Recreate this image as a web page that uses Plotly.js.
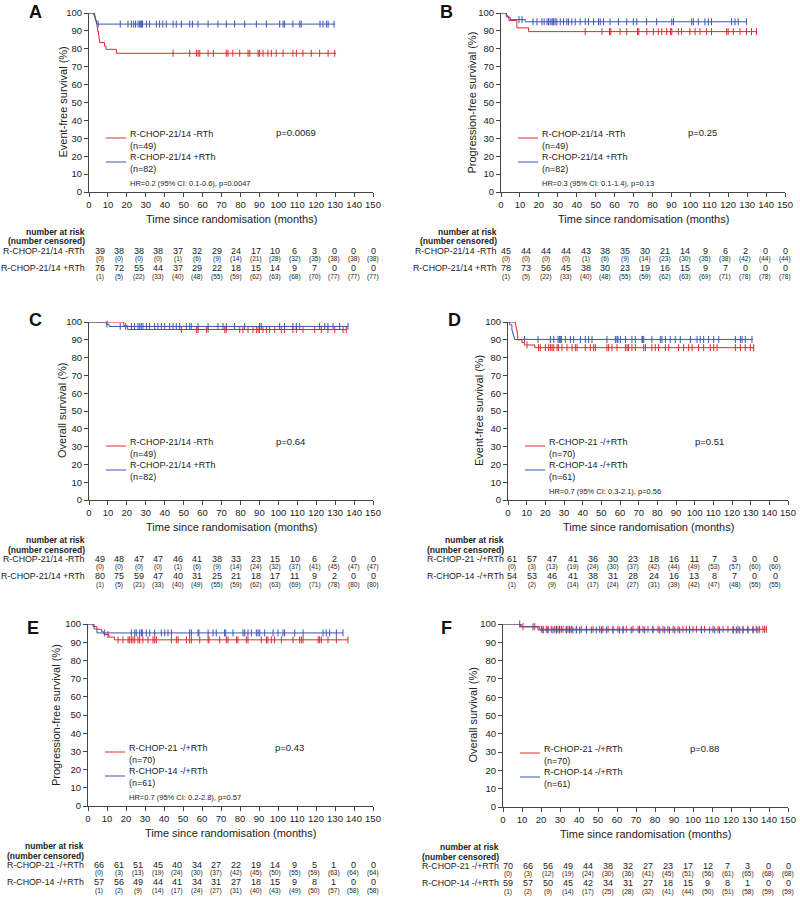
<!DOCTYPE html>
<html>
<head>
<meta charset="utf-8">
<script src="https://cdn.plot.ly/plotly-3.0.1.min.js"></script>
<style>
  html, body { margin: 0; padding: 0; background: #fff; }
  #chart { width: 800px; height: 909px; }
</style>
</head>
<body>
<div id="chart"></div>
<script>
// ---- data: step times / survival (%), censor times, numbers at risk ----
// A: event-free survival, R-CHOP-21/14 -RTh vs +RTh
const aRedT = [0, 3, 3.5, 4, 4.3, 4.6, 5, 5.3, 5.6, 8.2, 9, 14.5];
const aRedS = [100, 97.9, 95.8, 93.8, 91.7, 89.6, 87.5, 85.4, 83.5, 81.6, 79.7, 77.5];
const aRedEnd = 130.5;
const aRedCens = [44.4, 53.2, 56.7, 57.6, 58.5, 62.9, 65.7, 72.5, 73.4, 76, 79.6, 84, 84.9, 89.3, 90.1, 91.9, 94.5, 96.3, 98.9, 102.5, 107.7, 109.5, 113, 117.4, 121.8, 126.3, 129.8];
const aBlueT = [0, 2.5, 3, 3.3, 3.7, 4];
const aBlueS = [100, 98.8, 97.6, 96.3, 95.1, 93.8];
const aBlueEnd = 130;
const aBlueCens = [4.8, 16.5, 20.6, 22.4, 23.6, 24.6, 25.9, 26.8, 27.3, 27.8, 28.3, 30.3, 32, 35.6, 37.3, 39, 40.8, 44.4, 46.1, 48.8, 53.2, 54.6, 57.6, 62.9, 68.1, 72.5, 76.9, 82.2, 88.4, 93.7, 100.7, 102.5, 103.3, 107.7, 111.3, 112.1, 122, 123.6, 125.4, 126.3, 129.4];
const aRedRisk = [39, 38, 38, 38, 37, 32, 29, 24, 17, 10, 6, 3, 0, 0, 0];
const aRedCensN = [0, 0, 0, 0, 1, 6, 9, 14, 21, 28, 32, 35, 38, 38, 38];
const aBlueRisk = [76, 72, 55, 44, 37, 29, 22, 18, 15, 14, 9, 7, 0, 0, 0];
const aBlueCensN = [1, 5, 22, 33, 40, 48, 55, 59, 62, 63, 68, 70, 77, 77, 77];

// B: progression-free survival, R-CHOP-21/14 -RTh vs +RTh
const bRedT = [0, 2.8, 4.2, 8.4, 14.6];
const bRedS = [100, 97.9, 95.8, 91.7, 89.6];
const bRedEnd = 135;
const bRedCens = [44.5, 53.3, 57.3, 58, 62.9, 66.4, 72.1, 72.8, 77, 80.5, 83.1, 84.9, 87.5, 89.6, 90.2, 93.7, 95.4, 99.8, 102.5, 105.1, 108.6, 111.2, 119.2, 120, 122.7, 126.2, 129.7, 132.3, 135];
const bBlueT = [0, 2.8, 3.5, 4.9, 12.8];
const bBlueS = [100, 98.8, 97.6, 96.3, 95.1];
const bBlueEnd = 129.7;
const bBlueCens = [9.5, 11.1, 16.9, 19, 21.6, 22.8, 24.3, 25.1, 26, 26.9, 27.4, 27.8, 28.6, 29.5, 31.3, 33, 34.8, 35.7, 37.4, 39.2, 41.8, 44.5, 46.2, 48.9, 51.5, 52.4, 54.1, 57.6, 62, 66.4, 69.9, 71.7, 76.9, 82.2, 90.2, 91.1, 100.7, 101.6, 104.2, 107.7, 109.5, 111.2, 121.8, 123.6, 125.3, 129.7];
const bRedRisk = [45, 44, 44, 44, 43, 38, 35, 30, 21, 14, 9, 6, 2, 0, 0];
const bRedCensN = [0, 0, 0, 0, 1, 6, 9, 14, 23, 30, 35, 38, 42, 44, 44];
const bBlueRisk = [78, 73, 56, 45, 38, 30, 23, 19, 16, 15, 9, 7, 0, 0, 0];
const bBlueCensN = [1, 5, 22, 33, 40, 48, 55, 59, 62, 63, 69, 71, 78, 78, 78];

// C: overall survival, R-CHOP-21/14 -RTh vs +RTh
const cRedT = [0, 18.3, 20.4];
const cRedS = [100, 97.9, 95.8];
const cRedEnd = 135.9;
const cRedCens = [48.8, 56.7, 57.6, 62, 62.9, 71.7, 72.5, 79.6, 81.3, 84, 86.6, 88.4, 89.3, 90.1, 91.9, 93.7, 95.4, 98.1, 101.6, 103.3, 107.7, 109.5, 113, 119.2, 122.7, 126.2, 129.8, 134.2, 135.9];
const cBlueT = [0, 9.2, 10.6];
const cBlueS = [100, 98.8, 97.5];
const cBlueEnd = 136.8;
const cBlueCens = [9.5, 16.5, 19.4, 22.4, 24.1, 25.9, 26.8, 27.6, 28.5, 30.3, 32, 34.7, 36.4, 38.2, 40, 42.6, 44.4, 46.1, 47.9, 51.4, 53.2, 54, 57.6, 62.9, 68.1, 70.8, 72.5, 76.9, 82.2, 90.1, 91, 100.7, 103.3, 107.7, 109.5, 111.3, 121.8, 124.5, 126.2, 128.9, 132.4, 136.8];
const cRedRisk = [49, 48, 47, 47, 46, 41, 38, 33, 23, 15, 10, 6, 2, 0, 0];
const cRedCensN = [0, 0, 0, 0, 1, 6, 9, 14, 24, 32, 37, 41, 45, 47, 47];
const cBlueRisk = [80, 75, 59, 47, 40, 31, 25, 21, 18, 17, 11, 9, 2, 0, 0];
const cBlueCensN = [1, 5, 21, 33, 40, 49, 55, 59, 62, 63, 69, 71, 78, 80, 80];

// D: event-free survival, R-CHOP-21 vs R-CHOP-14
const dRedT = [0, 3.9, 4.2, 4.5, 4.8, 5.0, 5.2, 7.5, 8.75, 14.3];
const dRedS = [100, 98.6, 97.1, 95.7, 94.3, 92.8, 90.0, 88.5, 87.1, 85.6];
const dRedEnd = 132;
const dRedCens = [10.2, 16.4, 17.3, 20, 21.8, 22.7, 23.6, 24.5, 26.3, 27.1, 28.9, 31.6, 34.3, 36.1, 37, 41.4, 44.1, 45.9, 46.8, 53, 53.9, 55.7, 58.4, 62.9, 63.8, 64.6, 66.4, 68.2, 72.7, 73.6, 77.1, 78.9, 80.7, 84.3, 86.1, 91.4, 94.1, 96.8, 98.6, 102.1, 104.8, 108.4, 110.2, 112, 121.8, 124.5, 127.1, 129.8, 131.6];
const dBlueT = [0, 0.9, 2.1, 2.5, 3.0, 3.4];
const dBlueS = [100, 98.4, 95.1, 93.4, 91.8, 90.2];
const dBlueEnd = 131.3;
const dBlueCens = [8.9, 16.1, 22.7, 24.5, 26.8, 27.5, 28, 28.6, 30.7, 33.4, 35.2, 38.8, 41.4, 43.2, 45, 53, 57.5, 58.4, 58.9, 60.2, 62.9, 66.4, 68.2, 71.8, 72.1, 72.7, 77.1, 81.6, 82.5, 84.3, 86.9, 89.6, 92.3, 97.7, 101.3, 103, 104.8, 107.5, 110.2, 112.9, 121.8, 124.5, 125.4, 127.1, 130.7];
const dRedRisk = [61, 57, 47, 41, 36, 30, 23, 18, 16, 11, 7, 3, 0, 0, 0];
const dRedCensN = [0, 3, 13, 19, 24, 30, 37, 42, 44, 49, 53, 57, 60, 60, 60];
const dBlueRisk = [54, 53, 46, 41, 38, 31, 28, 24, 16, 13, 8, 7, 0, 0, 0];
const dBlueCensN = [1, 2, 9, 14, 17, 24, 27, 31, 39, 42, 47, 48, 55, 55, 55];

// E: progression-free survival, R-CHOP-21 vs R-CHOP-14
const eRedT = [0, 2.6, 4.7, 7.2, 8.4, 11, 14];
const eRedS = [100, 98.6, 97.1, 95.7, 94.2, 92.8, 91.3];
const eRedEnd = 136.8;
const eRedCens = [10.5, 15.8, 18.4, 21.1, 21.9, 22.8, 23.7, 24.6, 26.3, 27.2, 28.9, 31.6, 34.2, 35.1, 36, 43.9, 46.5, 47.4, 51.8, 53.5, 54.4, 58.8, 63.2, 63.7, 69.3, 72.8, 73.7, 78.1, 78.9, 83.3, 84.2, 91.2, 93.9, 94.7, 96.5, 98.2, 101.8, 107.9, 111.4, 112.3, 113.2, 121.1, 121.9, 122.8, 126.3, 130.7, 136.8];
const eBlueT = [0, 3.2, 4.7];
const eBlueS = [100, 97.3, 95.1];
const eBlueEnd = 134.2;
const eBlueCens = [8.8, 22.8, 24.6, 25.4, 27.2, 28.1, 28.6, 30.7, 32.5, 35.1, 38.6, 40.4, 42.1, 43.9, 53.5, 54.4, 57.9, 58.4, 63.2, 65.8, 67.5, 71.9, 72.5, 76.3, 81.6, 82.5, 84.2, 86, 88.6, 89.5, 90.4, 93, 97.4, 100, 102.6, 103.5, 108.8, 113.2, 123.7, 125.4, 127.2, 130.7, 134.2];
const eRedRisk = [66, 61, 51, 45, 40, 34, 27, 22, 19, 14, 9, 5, 1, 0, 0];
const eRedCensN = [0, 3, 13, 19, 24, 30, 37, 42, 45, 50, 55, 59, 63, 64, 64];
const eBlueRisk = [57, 56, 49, 44, 41, 34, 31, 27, 18, 15, 9, 8, 1, 0, 0];
const eBlueCensN = [1, 2, 9, 14, 17, 24, 27, 31, 40, 43, 49, 50, 57, 58, 58];

// F: overall survival, R-CHOP-21 vs R-CHOP-14
const fRedT = [0, 9.6, 19.3];
const fRedS = [100, 98.6, 97.1];
const fRedEnd = 138.6;
const fRedCens = [10.5, 16.7, 20.2, 21.1, 22.8, 23.7, 25.4, 27.2, 28.1, 28.9, 29.8, 30.7, 31.6, 33.3, 34.2, 35.1, 36, 38.6, 41.2, 43.9, 47.4, 50.9, 52.6, 55.3, 57.9, 60.5, 63.2, 64.9, 68.4, 71.1, 71.9, 73.7, 76.3, 78.9, 81.6, 84.2, 86.8, 89.5, 92.1, 94.7, 96.5, 98.2, 100, 101.8, 104.4, 106.1, 110.5, 113.2, 115.8, 118.4, 121.1, 123.7, 126.3, 128.9, 131.6, 133.3, 135.1, 136.8, 137.7, 138.6];
const fBlueT = [0, 9.1, 18.4];
const fBlueS = [100, 98.4, 96.7];
const fBlueEnd = 134.2;
const fBlueCens = [8.8, 15.8, 21.1, 23.7, 26.3, 28.1, 29.8, 33.3, 35.1, 36.8, 38.6, 40.4, 43.9, 46.5, 49.1, 51.8, 54.4, 57.9, 61.4, 63.2, 67.5, 71.9, 74.6, 78.9, 82.5, 85.1, 87.7, 90.4, 93, 98.2, 104.4, 108.8, 111.4, 114, 121.1, 122.8, 124.6, 126.3, 128.9, 131.6, 134.2];
const fRedRisk = [70, 66, 56, 49, 44, 38, 32, 27, 23, 17, 12, 7, 3, 0, 0];
const fRedCensN = [0, 3, 12, 19, 24, 30, 36, 41, 45, 51, 56, 61, 65, 68, 68];
const fBlueRisk = [59, 57, 50, 45, 42, 34, 31, 27, 18, 15, 9, 8, 1, 0, 0];
const fBlueCensN = [1, 2, 9, 14, 17, 25, 28, 32, 41, 44, 50, 51, 58, 59, 59];

const xTicks = [0, 10, 20, 30, 40, 50, 60, 70, 80, 90, 100, 110, 120, 130, 140, 150];
const yTicks = [0, 10, 20, 30, 40, 50, 60, 70, 80, 90, 100];

const armsRTh = ['R-CHOP-21/14 -RTh', 'R-CHOP-21/14 +RTh'];
const armsSched = ['R-CHOP-21 -/+RTh', 'R-CHOP-14 -/+RTh'];

// ---- page geometry (pixels) ----
const W = 800, H = 909;
const px = x => x / W;
const py = y => 1 - y / H;
const RED = '#e5262c', BLUE = '#3b55b2', AXC = '#444', TXT = '#222';
const FONT = 'Liberation Sans, Arial, Helvetica, sans-serif';

const panels = [
  { key: 'A', n: 1, L: 89, R: 373, T: 13, B: 192, letter: [35, 12], yt: 27, ytitle: 'Event-free survival (%)',
    arms: armsRTh, ns: ['(n=49)', '(n=82)'], p: 'p=0.0069', hr: 'HR=0.2 (95% CI: 0.1-0.6), p=0.0047',
    red: [aRedT, aRedS, aRedEnd, aRedCens, aRedRisk, aRedCensN],
    blue: [aBlueT, aBlueS, aBlueEnd, aBlueCens, aBlueRisk, aBlueCensN], cols: [5.8, 150] },
  { key: 'B', n: 2, L: 501, R: 785, T: 13, B: 192, letter: [446, 12], yt: 30, ytitle: 'Progression-free survival (%)',
    arms: armsRTh, ns: ['(n=49)', '(n=82)'], p: 'p=0.25', hr: 'HR=0.3 (95% CI: 0.1-1.4), p=0.13',
    red: [bRedT, bRedS, bRedEnd, bRedCens, bRedRisk, bRedCensN],
    blue: [bBlueT, bBlueS, bBlueEnd, bBlueCens, bBlueRisk, bBlueCensN], cols: [2.5, 150] },
  { key: 'C', n: 3, L: 89, R: 373, T: 322, B: 500, letter: [35, 320], yt: 27, ytitle: 'Overall survival (%)',
    arms: armsRTh, ns: ['(n=49)', '(n=82)'], p: 'p=0.64', hr: '',
    red: [cRedT, cRedS, cRedEnd, cRedCens, cRedRisk, cRedCensN],
    blue: [cBlueT, cBlueS, cBlueEnd, cBlueCens, cBlueRisk, cBlueCensN], cols: [5.8, 150] },
  { key: 'D', n: 4, L: 508, R: 788, T: 322, B: 500, letter: [454, 320], yt: 29, ytitle: 'Event-free survival (%)',
    arms: armsSched, ns: ['(n=70)', '(n=61)'], p: 'p=0.51', hr: 'HR=0.7 (95% CI: 0.3-2.1), p=0.56',
    red: [dRedT, dRedS, dRedEnd, dRedCens, dRedRisk, dRedCensN],
    blue: [dBlueT, dBlueS, dBlueEnd, dBlueCens, dBlueRisk, dBlueCensN], cols: [2.1, 154] },
  { key: 'E', n: 5, L: 88, R: 373, T: 624, B: 806, letter: [33, 628], yt: 32, ytitle: 'Progression-free survival (%)',
    arms: armsSched, ns: ['(n=70)', '(n=61)'], p: 'p=0.43', hr: 'HR=0.7 (95% CI: 0.2-2.8), p=0.57',
    red: [eRedT, eRedS, eRedEnd, eRedCens, eRedRisk, eRedCensN],
    blue: [eBlueT, eBlueS, eBlueEnd, eBlueCens, eBlueRisk, eBlueCensN], cols: [5.8, 150] },
  { key: 'F', n: 6, L: 503, R: 788, T: 624, B: 807, letter: [446, 628], yt: 31, ytitle: 'Overall survival (%)',
    arms: armsSched, ns: ['(n=70)', '(n=61)'], p: 'p=0.88', hr: '',
    red: [fRedT, fRedS, fRedEnd, fRedCens, fRedRisk, fRedCensN],
    blue: [fBlueT, fBlueS, fBlueEnd, fBlueCens, fBlueRisk, fBlueCensN], cols: [2.6, 150] }
];

function survAt(T, S, t) {
  let v = S[0];
  for (let i = 0; i < T.length; i++) if (T[i] <= t) v = S[i];
  return v;
}

const data = [];
const annotations = [];
const shapes = [];
const layout = {
  width: W, height: H,
  margin: { l: 0, r: 0, t: 0, b: 0 },
  paper_bgcolor: '#fff', plot_bgcolor: '#fff',
  showlegend: false,
  font: { family: FONT, color: TXT, size: 10 },
  annotations: annotations, shapes: shapes
};

function txt(x, y, text, opts) {
  annotations.push(Object.assign({
    x: x, y: y, xref: 'paper', yref: 'paper', text: text, showarrow: false,
    xanchor: 'left', yanchor: 'middle', font: { family: FONT, size: 9, color: TXT }
  }, opts || {}));
}

panels.forEach(p => {
  const sx = p.n === 1 ? '' : String(p.n);
  const xa = 'x' + sx, ya = 'y' + sx;
  layout['xaxis' + sx] = {
    domain: [px(p.L), px(p.R)], anchor: ya, range: [0, 150],
    tickvals: xTicks, ticks: 'outside', ticklen: 4, tickwidth: 1, tickcolor: AXC,
    showline: true, linecolor: AXC, linewidth: 1, showgrid: false, zeroline: false,
    tickfont: { family: FONT, size: 9.5, color: TXT }, fixedrange: true
  };
  layout['yaxis' + sx] = {
    domain: [py(p.B), py(p.T)], anchor: xa, range: [0, 100],
    tickvals: yTicks, ticks: 'outside', ticklen: 4, tickwidth: 1, tickcolor: AXC,
    showline: true, linecolor: AXC, linewidth: 1, showgrid: false, zeroline: false,
    tickfont: { family: FONT, size: 9.5, color: TXT }, fixedrange: true
  };

  [[p.red, RED], [p.blue, BLUE]].forEach(([arm, col]) => {
    const [T, S, end, cens] = arm;
    data.push({
      type: 'scatter', mode: 'lines', xaxis: xa, yaxis: ya,
      x: T.concat([end]), y: S.concat([S[S.length - 1]]),
      line: { shape: 'hv', color: col, width: 1 }, hoverinfo: 'skip'
    });
    data.push({
      type: 'scatter', mode: 'markers', xaxis: xa, yaxis: ya,
      x: cens, y: cens.map(t => survAt(T, S, t)),
      marker: { symbol: 'line-ns-open', size: 5, color: col, line: { color: col, width: 1 } },
      cliponaxis: false, hoverinfo: 'skip'
    });
  });

  // axis titles
  txt(px((p.L + p.R) / 2), py(p.B + 27), 'Time since randomisation (months)',
    { xanchor: 'center', font: { family: FONT, size: 11, color: TXT } });
  txt(px(p.L - p.yt), py((p.T + p.B) / 2), p.ytitle,
    { xanchor: 'center', textangle: -90, font: { family: FONT, size: 11, color: TXT } });

  // panel letter
  txt(px(p.letter[0]), py(p.letter[1]), '<b>' + p.key + '</b>',
    { xanchor: 'center', font: { family: FONT, size: 18, color: '#111' } });

  // legend
  const lg = [[RED, -52, -54], [BLUE, -29, -30]];
  lg.forEach(([col, ty, ly], i) => {
    shapes.push({ type: 'line', xref: 'paper', yref: 'paper',
      x0: px(p.L + 17), x1: px(p.L + 37), y0: py(p.B + ly), y1: py(p.B + ly),
      line: { color: col, width: 1 } });
    txt(px(p.L + 39), py(p.B + ty), p.arms[i] + '<br>' + p.ns[i], { align: 'left' });
  });
  txt(px(p.L + 185), py(p.B - 59), p.p, { font: { family: FONT, size: 9.5, color: TXT } });
  if (p.hr) txt(px(p.L + 39), py(p.B - 9), p.hr, { font: { family: FONT, size: 7.5, color: TXT } });

  // number at risk table
  const lx = px(p.L - 2);
  txt(lx, py(p.B + 40), '<b>number at risk</b>', { xanchor: 'right', font: { family: FONT, size: 8.5, color: TXT } });
  txt(lx, py(p.B + 49.5), '<b>(number censored)</b>', { xanchor: 'right', font: { family: FONT, size: 8.5, color: TXT } });
  const rows = [[p.red, 59, 67], [p.blue, 76, 85]];
  rows.forEach(([arm, ny, cy], i) => {
    txt(lx, py(p.B + ny), p.arms[i], { xanchor: 'right', font: { family: FONT, size: 8.8, color: TXT } });
    const risk = arm[4], cn = arm[5];
    risk.forEach((v, j) => {
      const cx = p.cols[0] + j * (p.cols[1] - p.cols[0]) / (risk.length - 1);
      annotations.push({ x: cx, y: py(p.B + ny), xref: xa, yref: 'paper', text: String(v), showarrow: false,
        xanchor: 'center', yanchor: 'middle', font: { family: FONT, size: 9, color: TXT } });
      annotations.push({ x: cx, y: py(p.B + cy), xref: xa, yref: 'paper', text: '(' + cn[j] + ')', showarrow: false,
        xanchor: 'center', yanchor: 'middle', font: { family: FONT, size: 6.5, color: TXT } });
    });
  });
});

Plotly.newPlot('chart', data, layout, { staticPlot: true, displayModeBar: false });
</script>
</body>
</html>
